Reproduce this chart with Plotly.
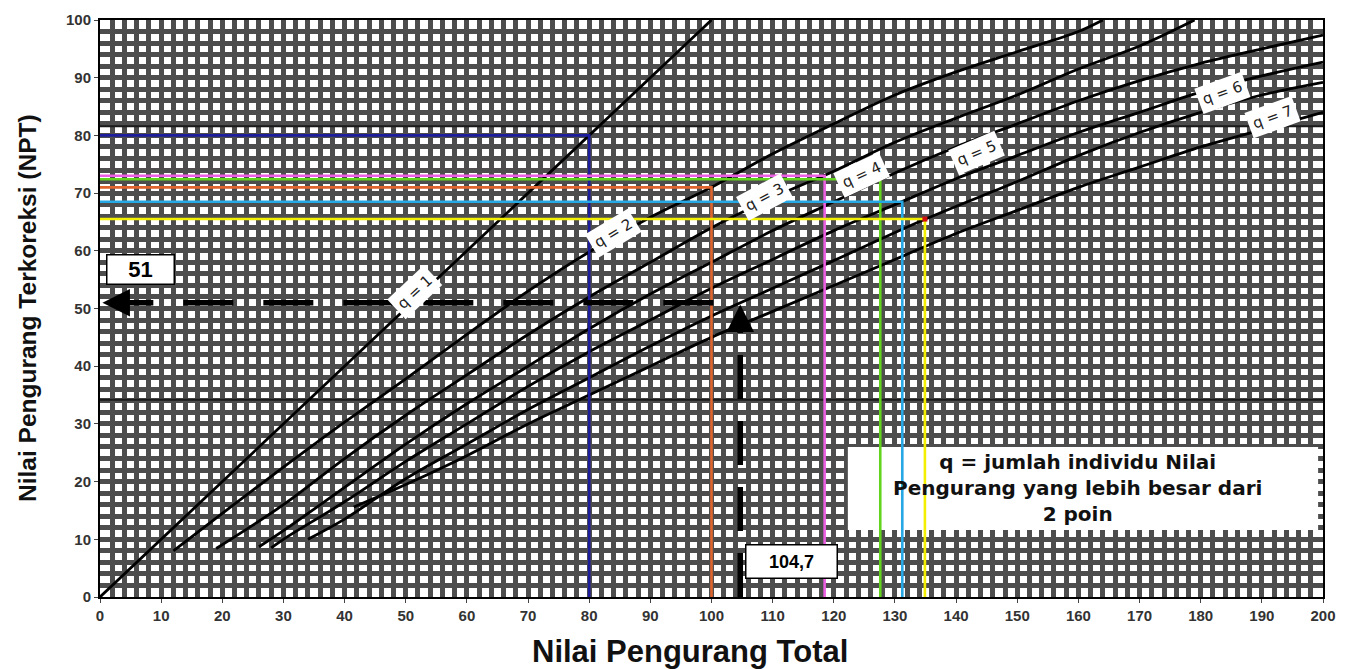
import plotly.graph_objects as go

# ---------------- data ----------------
tdv_ticks = list(range(0, 201, 10))
cdv_ticks = list(range(0, 101, 10))

q1_x = [0, 100]
q1_y = [0, 100]

q2_x = [12, 20, 30, 40, 50, 60, 70, 80, 90, 100, 110, 120, 130, 140, 150, 160, 164]
q2_y = [8, 14.5, 22.5, 30.3, 37.8, 45.5, 53, 59.8, 65.8, 71, 76.8, 82, 87, 91, 94.5, 98, 100]

q3_x = [19, 30, 40, 50, 60, 70, 80, 90, 100, 110, 120, 130, 140, 150, 160, 170, 179]
q3_y = [8.4, 16, 24, 31.5, 38.5, 45.5, 52, 58, 64, 69.2, 73.8, 78.8, 83, 87, 91.5, 95.5, 100]

q4_x = [26, 30, 40, 50, 60, 70, 80, 90, 100, 110, 120, 130, 140, 150, 160, 170, 180, 190, 200]
q4_y = [8.7, 11.5, 19, 26.5, 33.5, 40, 46.5, 52.5, 58, 63.5, 68.5, 73.5, 78, 82, 86, 89.5, 92.5, 95, 97.4]

q5_x = [28, 30, 40, 50, 60, 70, 80, 90, 100, 110, 120, 130, 140, 150, 160, 170, 180, 190, 200]
q5_y = [8.5, 10, 16.5, 23.5, 30, 36.5, 42.5, 48, 53.5, 58.5, 63.5, 68, 72.5, 76.5, 80.5, 84, 87.5, 90.3, 92.7]

q6_x = [34, 40, 50, 60, 70, 80, 90, 100, 110, 120, 135, 150, 160, 170, 180, 190, 200]
q6_y = [10, 13.5, 20.5, 26.5, 32.5, 38, 43.5, 48.7, 53.5, 58.3, 65.5, 72, 76.5, 80.5, 84, 87, 89.2]

q7_x = [41.5, 50, 60, 70, 80, 90, 100, 110, 120, 130, 140, 150, 160, 170, 180, 190, 200]
q7_y = [15.6, 19.5, 24.5, 30, 35, 40, 45, 49.5, 54, 58.5, 63, 67, 71, 74.5, 78, 81, 84]

curve_x = [q1_x, q2_x, q3_x, q4_x, q5_x, q6_x, q7_x]
curve_y = [q1_y, q2_y, q3_y, q4_y, q5_y, q6_y, q7_y]
curve_names = ["q = 1", "q = 2", "q = 3", "q = 4", "q = 5", "q = 6", "q = 7"]

# readings (TDV -> CDV) drawn as coloured guide lines
read_tdv = [80, 100, 118.5, 127.6, 131.2, 134.9]
read_cdv = [80, 71, 73, 72.4, 68.5, 65.5]
read_colors = ["#1c1c9c", "#e0642e", "#ec5ee2", "#62d41e", "#26a8e4", "#f2f000"]

example_tdv = 104.7
example_cdv = 51
example_tdv_label = "104,7"
example_cdv_label = "51"

x_title = "Nilai Pengurang Total"
y_title = "Nilai Pengurang Terkoreksi (NPT)"
note_lines = ["q = jumlah individu Nilai", "Pengurang yang lebih besar dari", "2 poin"]

# ---------------- figure ----------------
fig = go.Figure()

# darker scan lines of the printed chart
for yy in [81.6, 34.2]:
    fig.add_shape(type="line", x0=0, x1=200, y0=yy, y1=yy, xref="x", yref="y",
                  line=dict(color="#1a1a1a", width=2), layer="between")

# note box (under the traces)
fig.add_shape(type="rect", x0=122.3, x1=199.2, y0=11.6, y1=26.0, xref="x", yref="y",
              fillcolor="white", line=dict(width=0), layer="between")

for cx, cy, nm in zip(curve_x, curve_y, curve_names):
    fig.add_trace(go.Scatter(x=cx, y=cy, mode="lines", name=nm,
                             line=dict(color="black", width=2.8, shape="spline"),
                             showlegend=False, hoverinfo="skip"))

for tx, cy, col in zip(read_tdv, read_cdv, read_colors):
    fig.add_trace(go.Scatter(x=[0, tx, tx], y=[cy, cy, 0], mode="lines",
                             line=dict(color=col, width=2.6),
                             showlegend=False, hoverinfo="skip"))
fig.add_trace(go.Scatter(x=[read_tdv[-1]], y=[read_cdv[-1]], mode="markers",
                         marker=dict(color="#d01010", size=5, symbol="square"),
                         showlegend=False, hoverinfo="skip"))

# dashed example arrows
fig.add_trace(go.Scatter(x=[example_tdv, example_tdv], y=[0, example_cdv - 1.5], mode="lines",
                         line=dict(color="black", width=5.5, dash="44px,22px"),
                         showlegend=False, hoverinfo="skip"))
fig.add_trace(go.Scatter(x=[100.3, 1.5], y=[example_cdv, example_cdv], mode="lines",
                         line=dict(color="black", width=5.5, dash="50px,30px"),
                         showlegend=False, hoverinfo="skip"))

fig.add_annotation(x=example_tdv, y=example_cdv - 0.3, xref="x", yref="y", ax=0, ay=30,
                   showarrow=True, arrowhead=2, arrowsize=1.1, arrowwidth=5, arrowcolor="black", text="")
fig.add_annotation(x=0.4, y=example_cdv, xref="x", yref="y", ax=28, ay=0,
                   showarrow=True, arrowhead=2, arrowsize=1.1, arrowwidth=5, arrowcolor="black", text="")

# value boxes
fig.add_annotation(x=6.6, y=56.8, xref="x", yref="y", text="<b>" + example_cdv_label + "</b>",
                   showarrow=False, font=dict(family="Liberation Sans", size=22, color="black"),
                   bgcolor="white", bordercolor="black", borderwidth=1.5, width=64, height=26)
fig.add_annotation(x=113, y=6.1, xref="x", yref="y", text="<b>" + example_tdv_label + "</b>",
                   showarrow=False, font=dict(family="Liberation Sans", size=18, color="black"),
                   bgcolor="white", bordercolor="black", borderwidth=1.5, width=88, height=30)

# note text
fig.add_annotation(x=159.9, y=18.9, xref="x", yref="y",
                   text="<b>" + "<br>".join(note_lines) + "</b>",
                   showarrow=False, font=dict(family="DejaVu Sans", size=20, color="#111"),
                   xanchor="center", yanchor="middle", align="center")

# curve labels
lab_x = [51.5, 84.0, 108.7, 124.5, 143.3, 183.5, 191.8]
lab_y = [52.9, 63.0, 69.3, 73.2, 77.0, 87.3, 83.2]
lab_ang = [-43, -31, -28, -25, -23, -20, -20]
for nm, lx, ly, la in zip(curve_names, lab_x, lab_y, lab_ang):
    fig.add_annotation(x=lx, y=ly, xref="x", yref="y", text=nm, textangle=la,
                       showarrow=False, font=dict(family="DejaVu Sans", size=15, color="#222"),
                       bgcolor="white", borderpad=4)

# axis titles
fig.add_annotation(x=0.4824, y=-0.0953, xref="paper", yref="paper", text="<b>" + x_title + "</b>",
                   xanchor="center", yanchor="middle", showarrow=False,
                   font=dict(family="Liberation Sans", size=31, color="#111"))
fig.add_annotation(x=-0.0589, y=0.5009, xref="paper", yref="paper", text="<b>" + y_title + "</b>",
                   textangle=-90, xanchor="center", yanchor="middle", showarrow=False,
                   font=dict(family="Liberation Sans", size=24.5, color="#111"))

grid_col = "#4d4d4d"
fig.update_xaxes(range=[0, 200], tickvals=tdv_ticks, ticktext=[str(v) for v in tdv_ticks],
                 showgrid=True, gridcolor=grid_col, gridwidth=5,
                 minor=dict(dtick=2, showgrid=True, gridcolor=grid_col, gridwidth=5),
                 zeroline=False, showline=True, linecolor="black", linewidth=2, mirror=True,
                 ticks="outside", ticklen=4, tickcolor="#444", automargin=False,
                 tickfont=dict(family="Liberation Sans", size=15, color="#333", weight="bold"))
fig.update_yaxes(range=[0, 100], tickvals=cdv_ticks, ticktext=[str(v) for v in cdv_ticks],
                 showgrid=True, gridcolor=grid_col, gridwidth=5,
                 minor=dict(dtick=2, showgrid=True, gridcolor=grid_col, gridwidth=5),
                 zeroline=False, showline=True, linecolor="black", linewidth=2, mirror=True,
                 ticks="outside", ticklen=4, tickcolor="#444", automargin=False,
                 tickfont=dict(family="Liberation Sans", size=15, color="#333", weight="bold"))

fig.update_layout(width=1356, height=669, margin=dict(l=92, r=41, t=12, b=80),
                  paper_bgcolor="white", plot_bgcolor="white", showlegend=False)

fig.write_html("out.html")
